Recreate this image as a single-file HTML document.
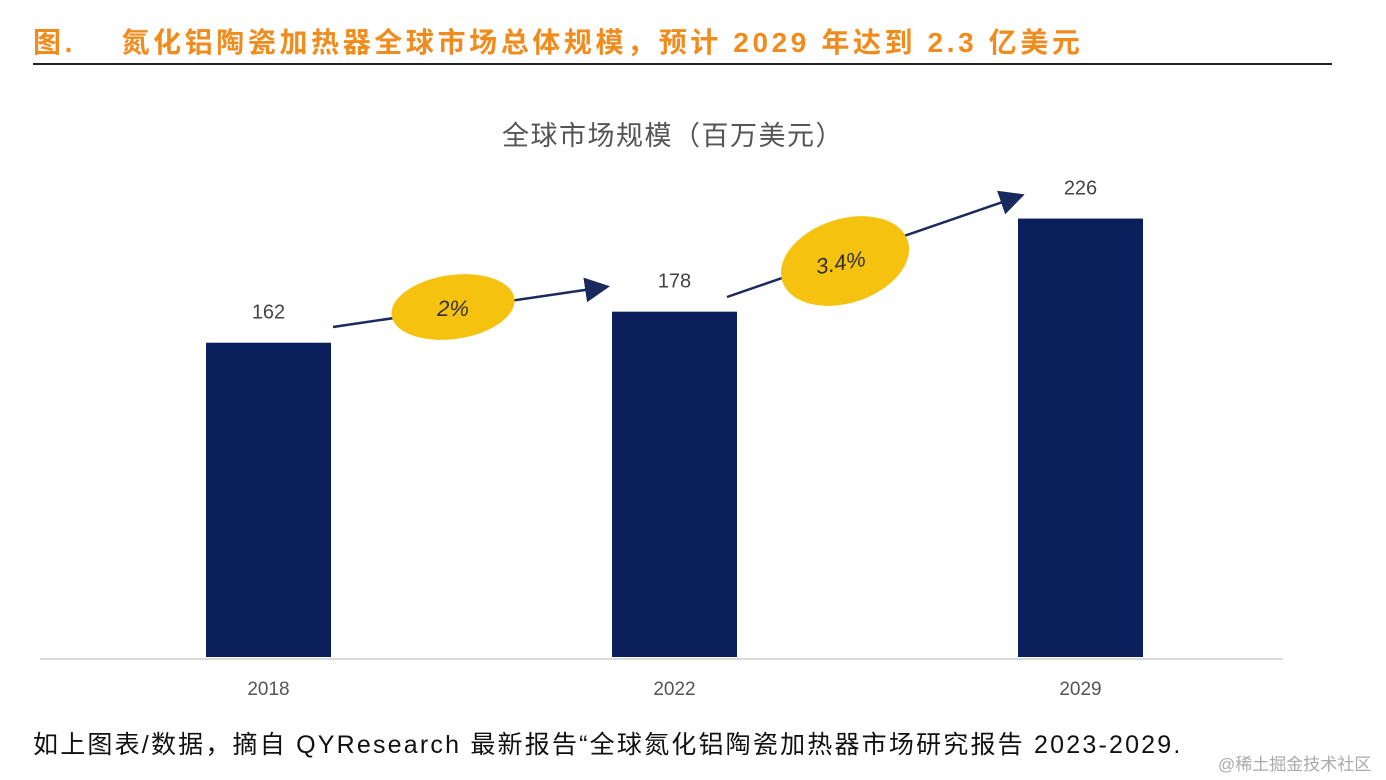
<!DOCTYPE html>
<html><head><meta charset="utf-8"><style>
html,body{margin:0;padding:0;background:#fff;}
body{width:1386px;height:780px;position:relative;overflow:hidden;font-family:"Liberation Sans","Noto Sans CJK SC",sans-serif;}
#title{position:absolute;left:33px;top:21px;font-size:28px;font-weight:bold;color:#f08c1e;white-space:nowrap;letter-spacing:3.6px;}
#rule{position:absolute;left:33px;top:63px;width:1299px;height:2px;background:#222;}
#footer{position:absolute;left:33px;top:725px;font-size:25px;color:#111;white-space:nowrap;letter-spacing:2.2px;}
#wm{position:absolute;left:1218px;top:750px;font-size:17px;color:#aaa;white-space:nowrap;}
</style></head><body>
<div id="title">图.&nbsp;&nbsp;&nbsp;&nbsp;氮化铝陶瓷加热器全球市场总体规模，预计 2029 年达到 2.3 亿美元</div>
<div id="rule"></div>
<svg id="chart" width="1386" height="780" style="position:absolute;left:0;top:0">
<defs><marker id="ah" markerWidth="10" markerHeight="10" refX="8" refY="5" orient="auto"><path d="M0,0 L10,5 L0,10 z" fill="#1a2a5c"/></marker></defs>
<text x="673" y="145" text-anchor="middle" font-size="27" letter-spacing="1.5" fill="#555">全球市场规模（百万美元）</text>
<line x1="40" y1="659" x2="1283" y2="659" stroke="#d9d9d9" stroke-width="2"/>
<g id="bars"></g>
<line x1="333" y1="327" x2="605" y2="287" stroke="#1a2a5c" stroke-width="2.5" marker-end="url(#ah)"/>
<line x1="727" y1="297" x2="1020" y2="196" stroke="#1a2a5c" stroke-width="2.5" marker-end="url(#ah)"/>
<ellipse cx="453" cy="307" rx="62" ry="32" fill="#f5c20f" transform="rotate(-8 453 307)"/>
<text x="453" y="316" text-anchor="middle" font-size="22" fill="#333" font-style="italic">2%</text>
<ellipse cx="845" cy="261" rx="66" ry="42" fill="#f5c20f" transform="rotate(-18 845 261)"/>
<text x="842" y="270" text-anchor="middle" font-size="22" fill="#333" font-style="italic" transform="rotate(-10 842 270)">3.4%</text>
</svg>
<div id="footer">如上图表/数据，摘自 QYResearch 最新报告“全球氮化铝陶瓷加热器市场研究报告 2023-2029.</div>
<div id="wm">@稀土掘金技术社区</div>
<script>
const categories=["2018","2022","2029"];
const values=[162,178,226];
const valueLabels=["162","178","226"];
const ns="http://www.w3.org/2000/svg";
const g=document.getElementById("bars");
const baseY=657, pxPer=1.94, x0=206, step=406, bw=125;
function xPos(i){return x0+i*step;}
function yPos(v){return baseY-v*pxPer;}
categories.forEach((c,i)=>{
  const r=document.createElementNS(ns,"rect");
  r.setAttribute("x",xPos(i));r.setAttribute("y",yPos(values[i]));
  r.setAttribute("width",bw);r.setAttribute("height",baseY-yPos(values[i]));
  r.setAttribute("fill","#0b1f5c");
  
  
  g.appendChild(r);
  const t=document.createElementNS(ns,"text");
  t.setAttribute("x",xPos(i)+bw/2);t.setAttribute("y",yPos(values[i])-24);
  t.setAttribute("text-anchor","middle");t.setAttribute("font-size","20");t.setAttribute("fill","#444");
  t.textContent=valueLabels[i];
  
  
  g.appendChild(t);
  const l=document.createElementNS(ns,"text");
  l.setAttribute("x",xPos(i)+bw/2);l.setAttribute("y",695);
  l.setAttribute("text-anchor","middle");l.setAttribute("font-size","19");l.setAttribute("fill","#555");
  l.textContent=c;
  
  
  g.appendChild(l);
});
</script>
</body></html>
